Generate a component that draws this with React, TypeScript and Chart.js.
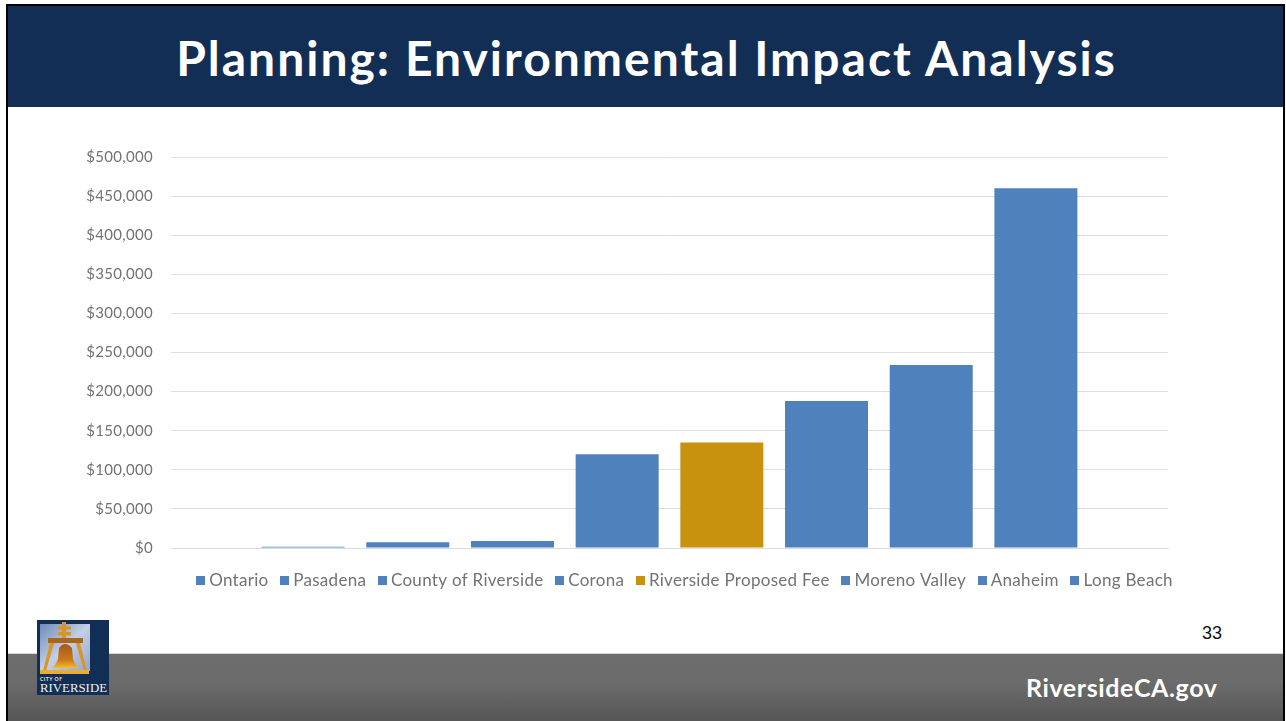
import React, { useEffect, useRef } from "react";
import { Chart, registerables } from "chart.js";

Chart.register(...registerables);

const BLUE = "#4f81bd";
const GOLD = "#c8920f";
const TEXT = "#737373";

const category = ["Environmental Impact Analysis"];
const agencies = [
  "Ontario",
  "Pasadena",
  "County of Riverside",
  "Corona",
  "Riverside Proposed Fee",
  "Moreno Valley",
  "Anaheim",
  "Long Beach",
];
const fees = [1500, 7500, 9000, 120000, 135000, 188000, 234000, 460000];
const colors = [BLUE, BLUE, BLUE, BLUE, GOLD, BLUE, BLUE, BLUE];

// Square legend swatch, sized independently of the label font.
function swatch(color: string) {
  const c = document.createElement("canvas");
  c.width = 9;
  c.height = 9;
  const g = c.getContext("2d")!;
  g.fillStyle = color;
  g.fillRect(0, 0, 9, 9);
  return c;
}

// Widens canvas text a little so labels keep the geometric proportions of the slide.
const trackedText = {
  id: "trackedText",
  beforeLayout(chart: any) {
    chart.ctx.letterSpacing = "0.3px";
  },
  beforeDraw(chart: any) {
    chart.ctx.letterSpacing = "0.3px";
  },
};

// The legend row sits centred on the slide body rather than on the plot area.
const legendShift = {
  id: "legendShift",
  afterLayout(chart: any) {
    chart.legend.left += 61.5;
    chart.legend.right += 61.5;
  },
};

const box = (style: React.CSSProperties): React.CSSProperties => ({ position: "absolute", ...style });

function Logo() {
  return (
    <svg width="72" height="75" viewBox="0 0 72 75" style={{ position: "absolute", left: 37, top: 620 }}>
      <defs>
        <linearGradient id="sky" x1="0" y1="0" x2="1" y2="1">
          <stop offset="0" stopColor="#6f8bb8" />
          <stop offset="0.5" stopColor="#c3cfe4" />
          <stop offset="1" stopColor="#92a8cf" />
        </linearGradient>
        <linearGradient id="bronze" x1="0" y1="0" x2="0" y2="1">
          <stop offset="0" stopColor="#a8581c" />
          <stop offset="0.65" stopColor="#c9781a" />
          <stop offset="1" stopColor="#f5bb2c" />
        </linearGradient>
      </defs>
      <rect width="72" height="75" fill="#122e54" />
      <rect x="3" y="4" width="50" height="47" fill="url(#sky)" />
      <g fill="#d9952a">
        <rect x="25" y="2" width="4" height="17" />
        <rect x="21" y="6.5" width="13" height="3" />
        <rect x="21" y="12" width="13" height="3.5" />
        <rect x="11" y="18" width="35" height="5" fill="#a8661f" />
        <polygon points="13,23 17,23 9,51 6,51" />
        <polygon points="39,23 43,23 50,51 47,51" />
        <rect x="3" y="50" width="49" height="4" fill="#e6ad3a" />
      </g>
      <path d="M22 28 Q28 20 35 28 L36 39 Q38 45 42 48 L15 48 Q19 45 21 39 Z" fill="url(#bronze)" />
      <text x="3" y="60.5" fontFamily="Lato" fontSize="5" fontWeight="700" fill="#e8e8e8" textLength="22">CITY OF</text>
      <text x="3" y="72" fontFamily="Liberation Serif" fontSize="13" fill="#eef1f5" textLength="67" lengthAdjust="spacingAndGlyphs">RIVERSIDE</text>
    </svg>
  );
}

export default function App() {
  const ref = useRef<HTMLCanvasElement>(null);

  useEffect(() => {
    const chart = new Chart(ref.current!, {
      type: "bar",
      plugins: [trackedText, legendShift],
      data: {
        labels: category,
        datasets: agencies.map((name, i) => ({
          label: name,
          data: [fees[i]],
          backgroundColor: colors[i],
          pointStyle: swatch(colors[i]),
          categoryPercentage: 0.84,
          barPercentage: 0.793,
        })),
      },
      options: {
        responsive: false,
        animation: false,
        layout: { padding: { left: 0, right: 118, top: 43, bottom: 0 } },
        plugins: {
          tooltip: { enabled: false },
          title: { display: false },
          legend: {
            position: "bottom",
            labels: {
              usePointStyle: true,
              pointStyleWidth: 0.5,
              color: TEXT,
              font: { family: "Lato", size: 17 },
              padding: 15.7,
            },
          },
        },
        scales: {
          x: {
            afterFit: (s: any) => {
              s.height = 8.3;
            },
            grid: { display: false },
            border: { color: "#dcdcdc" },
            ticks: { display: false },
          },
          y: {
            min: 0,
            max: 500000,
            afterFit: (s: any) => {
              s.width = 89;
            },
            border: { display: false },
            grid: { color: "#dedede", drawTicks: false },
            ticks: {
              stepSize: 50000,
              padding: 18,
              color: TEXT,
              font: { family: "Lato", size: 15 },
              callback: (v: any) => "$" + Number(v).toLocaleString("en-US"),
            },
          },
        },
      },
    } as any);
    return () => chart.destroy();
  }, []);

  return (
    <div style={box({ left: 0, top: 0, width: 1286, height: 721, background: "#fff", overflow: "hidden" })}>
      <canvas ref={ref} width={1204} height={485} style={box({ left: 82, top: 114 })} />
      <div style={box({ left: 8, top: 6, width: 1275, height: 101, background: "#122e54" })} />
      <div
        style={box({
          left: 9, top: 6, width: 1275, height: 101, color: "#fff", textAlign: "center",
          font: "700 48px Lato", lineHeight: "104px", letterSpacing: 2,
        })}
      >
        Planning: Environmental Impact Analysis
      </div>
      <div style={box({ left: 8, top: 653, width: 1275, height: 68, background: "linear-gradient(#6d6d6d 0%, #6b6b6b 45%, #565656 100%)", borderTop: "1px solid #d8d8d8", boxSizing: "border-box" })} />
      <div style={box({ left: 6, top: 4, width: 2, height: 717, background: "#000" })} />
      <div style={box({ left: 6, top: 4, width: 1279, height: 2, background: "#000" })} />
      <div style={box({ left: 1283, top: 4, width: 2, height: 717, background: "#000" })} />
      <Logo />
      <div style={box({ left: 1202, top: 623, color: "#111", font: "18px 'Liberation Sans'" })}>33</div>
      <div style={box({ left: 1026, top: 672, color: "#fff", font: "700 25px Lato", letterSpacing: 0.6 })}>RiversideCA.gov</div>
    </div>
  );
}
